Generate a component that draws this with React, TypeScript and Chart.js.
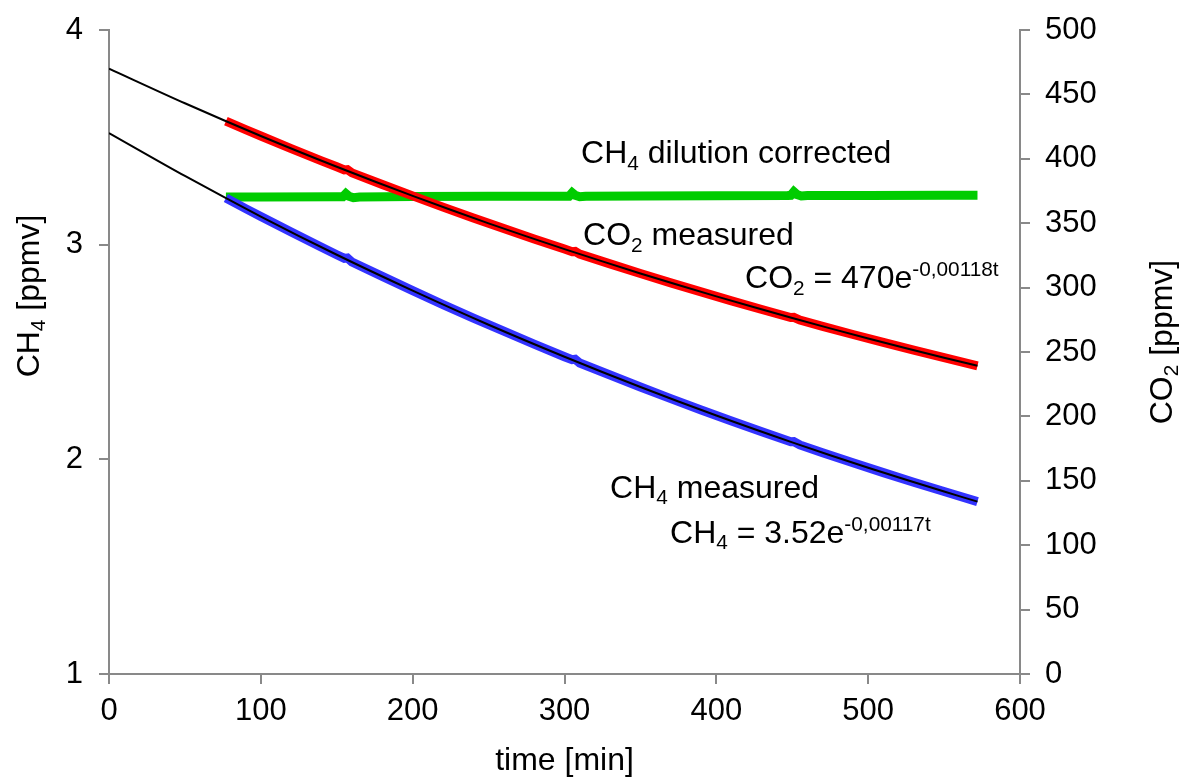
import React, { useEffect, useRef } from "react";
import { Chart, registerables } from "chart.js";

Chart.register(...registerables);

// ---- data ----
const ch4Time = [77, 90, 100, 120, 140, 150, 155, 157, 160, 180, 200, 220, 240, 260, 280, 300, 305, 307, 310, 330, 350, 370, 390, 410, 430, 449, 451, 455, 470, 490, 510, 530, 550, 572];
const ch4Measured = [3.217, 3.168, 3.131, 3.059, 2.988, 2.953, 2.936, 2.938, 2.919, 2.852, 2.786, 2.721, 2.658, 2.597, 2.537, 2.478, 2.464, 2.466, 2.449, 2.393, 2.337, 2.283, 2.230, 2.179, 2.128, 2.082, 2.083, 2.067, 2.031, 1.984, 1.938, 1.893, 1.850, 1.803];

const co2Time = [77, 90, 100, 120, 140, 150, 155, 157, 160, 180, 200, 220, 240, 260, 280, 300, 305, 307, 310, 330, 350, 370, 390, 410, 430, 449, 451, 455, 470, 490, 510, 530, 550, 572];
const co2Measured = [429.2, 422.6, 417.7, 407.9, 398.4, 393.8, 391.4, 391.6, 389.1, 380.1, 371.2, 362.5, 354.1, 345.8, 337.8, 329.9, 327.9, 328.1, 326.0, 318.4, 311.0, 303.7, 296.7, 289.7, 283.0, 276.8, 276.9, 274.8, 269.9, 263.6, 257.5, 251.5, 245.6, 239.3];

const dilTime = [77, 100, 150, 154, 156, 158, 161, 165, 200, 250, 300, 303, 305, 307, 310, 314, 350, 400, 447, 449, 451, 453, 456, 460, 500, 550, 572];
const dilCorrected = [3.222, 3.222, 3.223, 3.223, 3.238, 3.226, 3.219, 3.222, 3.224, 3.225, 3.226, 3.226, 3.242, 3.230, 3.223, 3.226, 3.227, 3.228, 3.229, 3.230, 3.247, 3.234, 3.227, 3.229, 3.229, 3.230, 3.230];

const fitTime = [0, 50, 100, 150, 200, 250, 300, 350, 400, 450, 500, 550, 572];
const ch4Fit = [3.52, 3.320, 3.131, 2.953, 2.786, 2.627, 2.478, 2.337, 2.204, 2.079, 1.961, 1.850, 1.803];
const co2Fit = [470, 443.1, 417.7, 393.8, 371.2, 349.9, 329.9, 311.0, 293.2, 276.4, 260.5, 245.6, 239.3];

// tick settings
const xTicks = { min: 0, max: 600, step: 100 };
const yLeftTicks = { min: 1, max: 4, step: 1 };
const yRightTicks = { min: 0, max: 500, step: 50 };

// annotations: [time, left-axis value, segments]
type Seg = { t: string; m?: "sub" | "sup" };
const annotations: { x: number; y: number; segs: Seg[] }[] = [
  { x: 310.9, y: 3.379, segs: [{ t: "CH" }, { t: "4", m: "sub" }, { t: " dilution corrected" }] },
  { x: 312.2, y: 2.997, segs: [{ t: "CO" }, { t: "2", m: "sub" }, { t: " measured" }] },
  { x: 418.9, y: 2.796, segs: [{ t: "CO" }, { t: "2", m: "sub" }, { t: " = 470e" }, { t: "-0,00118t", m: "sup" }] },
  { x: 330.0, y: 1.821, segs: [{ t: "CH" }, { t: "4", m: "sub" }, { t: " measured" }] },
  { x: 369.5, y: 1.611, segs: [{ t: "CH" }, { t: "4", m: "sub" }, { t: " = 3.52e" }, { t: "-0,00117t", m: "sup" }] },
];

const FONT = "'Liberation Sans', Arial, sans-serif";
const TICK_SIZE = 31;
const TEXT_SIZE = 32;
const AXIS = "#898989";

const zip = (xs: number[], ys: number[]) => xs.map((x, i) => ({ x, y: ys[i] }));

function segFont(m: string | undefined) {
  const s = m ? TEXT_SIZE * 0.65 : TEXT_SIZE;
  return `${s}px ${FONT}`;
}
function richWidth(ctx: CanvasRenderingContext2D, segs: Seg[]) {
  let w = 0;
  for (const s of segs) {
    ctx.font = segFont(s.m);
    w += ctx.measureText(s.t).width;
  }
  return w;
}
function drawRich(ctx: CanvasRenderingContext2D, x: number, y: number, segs: Seg[]) {
  let cx = x;
  for (const s of segs) {
    ctx.font = segFont(s.m);
    const dy = s.m === "sub" ? TEXT_SIZE * 0.2 : s.m === "sup" ? -TEXT_SIZE * 0.38 : 0;
    ctx.fillText(s.t, cx, y + dy);
    cx += ctx.measureText(s.t).width;
  }
}

const textPlugin = {
  id: "texts",
  afterDraw(chart: any) {
    const ctx: CanvasRenderingContext2D = chart.ctx;
    const xs = chart.scales.x;
    const yl = chart.scales.y;
    const ca = chart.chartArea;
    ctx.save();
    ctx.fillStyle = "#000";
    ctx.textBaseline = "alphabetic";
    ctx.textAlign = "left";
    for (const a of annotations) {
      drawRich(ctx, xs.getPixelForValue(a.x), yl.getPixelForValue(a.y), a.segs);
    }
    // x title
    const xt: Seg[] = [{ t: "time [min]" }];
    const xw = richWidth(ctx, xt);
    drawRich(ctx, (ca.left + ca.right) / 2 - xw / 2, ca.bottom + 96, xt);
    // left title
    const lt: Seg[] = [{ t: "CH" }, { t: "4", m: "sub" }, { t: " [ppmv]" }];
    const lw = richWidth(ctx, lt);
    ctx.save();
    ctx.translate(ca.left - 70, ca.top + 266);
    ctx.rotate(-Math.PI / 2);
    drawRich(ctx, -lw / 2, 0, lt);
    ctx.restore();
    // right title
    const rt: Seg[] = [{ t: "CO" }, { t: "2", m: "sub" }, { t: " [ppmv]" }];
    const rw = richWidth(ctx, rt);
    ctx.save();
    ctx.translate(ca.right + 152, ca.top + 312);
    ctx.rotate(-Math.PI / 2);
    drawRich(ctx, -rw / 2, 0, rt);
    ctx.restore();
    ctx.restore();
  },
};

export default function App() {
  const ref = useRef<HTMLCanvasElement>(null);
  useEffect(() => {
    document.body.style.margin = "0";
    const tickFont = { family: FONT, size: TICK_SIZE };
    const grid = { drawOnChartArea: false, drawTicks: true, tickLength: 10, color: AXIS, lineWidth: 2 };
    const border = { display: true, color: AXIS, width: 2 };
    const noPad = (s: any) => { s.paddingTop = 0; s.paddingBottom = 0; s.paddingLeft = 0; s.paddingRight = 0; };
    const chart = new Chart(ref.current!, {
      type: "line",
      data: {
        datasets: [
          { label: "CH4 fit", data: zip(fitTime, ch4Fit), yAxisID: "y", borderColor: "#000", borderWidth: 2, pointRadius: 0, tension: 0.3, order: 0 },
          { label: "CO2 fit", data: zip(fitTime, co2Fit), yAxisID: "y2", borderColor: "#000", borderWidth: 2, pointRadius: 0, tension: 0.3, order: 0 },
          { label: "CO2 measured", data: zip(co2Time, co2Measured), yAxisID: "y2", borderColor: "#ff0000", borderWidth: 9, pointRadius: 0, tension: 0, order: 1 },
          { label: "CH4 measured", data: zip(ch4Time, ch4Measured), yAxisID: "y", borderColor: "#3333ff", borderWidth: 9, pointRadius: 0, tension: 0, order: 2 },
          { label: "CH4 dilution corrected", data: zip(dilTime, dilCorrected), yAxisID: "y", borderColor: "#00cc00", borderWidth: 9, pointRadius: 0, tension: 0, order: 3 },
        ],
      },
      options: {
        responsive: false,
        animation: false,
        layout: { padding: { top: 30, left: 0, right: 0, bottom: 0 } },
        plugins: { legend: { display: false }, tooltip: { enabled: false } },
        scales: {
          x: {
            type: "linear",
            position: "bottom",
            min: xTicks.min,
            max: xTicks.max,
            ticks: { stepSize: xTicks.step, font: tickFont, color: "#000", padding: 9, maxRotation: 0 },
            grid,
            border,
            afterFit: (s: any) => { s.height = 105; noPad(s); },
          },
          y: {
            type: "linear",
            position: "left",
            min: yLeftTicks.min,
            max: yLeftTicks.max,
            ticks: { stepSize: yLeftTicks.step, font: tickFont, color: "#000", padding: 16 },
            grid,
            border,
            afterFit: (s: any) => { s.width = 109; noPad(s); },
          },
          y2: {
            type: "linear",
            position: "right",
            min: yRightTicks.min,
            max: yRightTicks.max,
            ticks: { stepSize: yRightTicks.step, font: tickFont, color: "#000", padding: 15 },
            grid,
            border,
            afterFit: (s: any) => { s.width = 162; noPad(s); },
          },
        },
      } as any,
      plugins: [textPlugin],
    });
    return () => chart.destroy();
  }, []);
  return <canvas ref={ref} width={1182} height={779} style={{ display: "block" }} />;
}
